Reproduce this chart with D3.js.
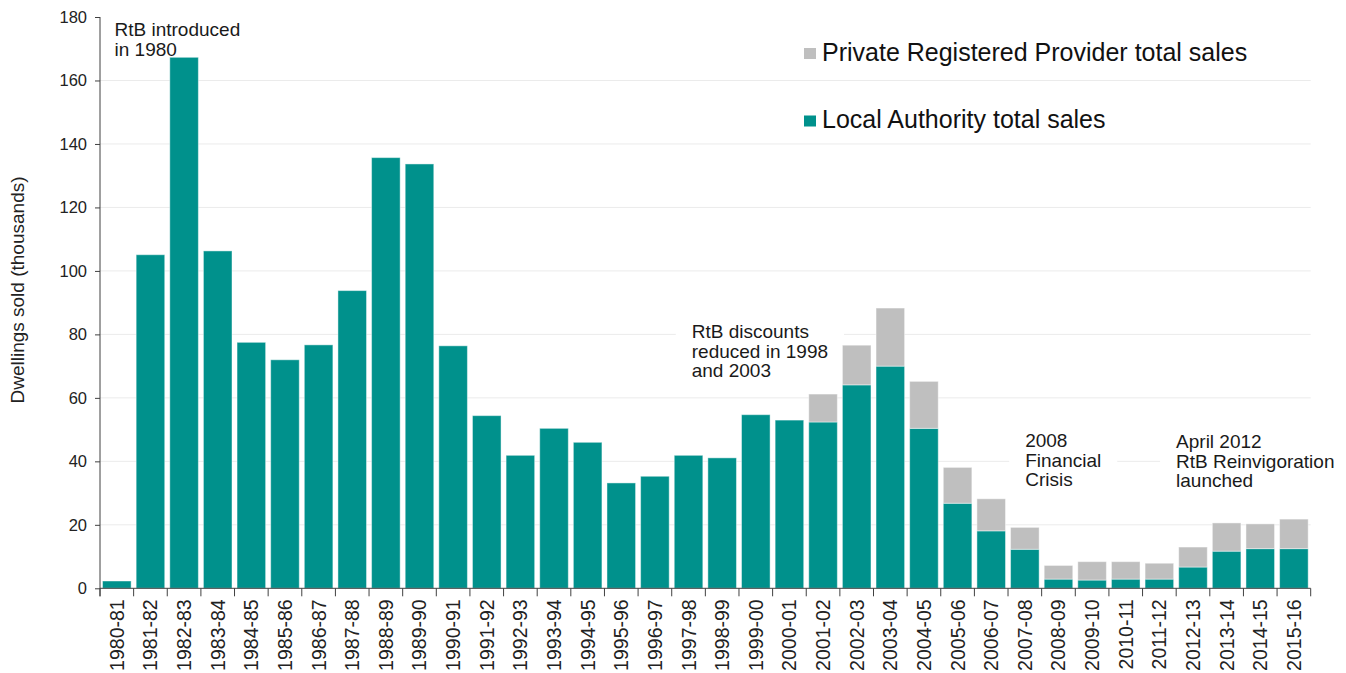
<!DOCTYPE html>
<html>
<head>
<meta charset="utf-8">
<script src="https://cdn.jsdelivr.net/npm/d3@7"></script>
<style>
  body { margin: 0; background: #fff; }
  svg { display: block; font-family: "Liberation Sans", Arial, sans-serif; }
</style>
</head>
<body>
<svg width="1346" height="673"></svg>
<script>
// Right to Buy sales, England (thousands)
var years = ['1980-81','1981-82','1982-83','1983-84','1984-85','1985-86','1986-87','1987-88','1988-89','1989-90',
  '1990-91','1991-92','1992-93','1993-94','1994-95','1995-96','1996-97','1997-98','1998-99','1999-00',
  '2000-01','2001-02','2002-03','2003-04','2004-05','2005-06','2006-07','2007-08','2008-09','2009-10',
  '2010-11','2011-12','2012-13','2013-14','2014-15','2015-16'];
var laSales = [2.3, 105.1, 167.3, 106.3, 77.5, 72.0, 76.7, 93.8, 135.7, 133.7,
  76.4, 54.4, 41.9, 50.4, 46.0, 33.2, 35.3, 41.9, 41.1, 54.7,
  53.0, 52.4, 64.1, 70.0, 50.4, 26.8, 18.1, 12.3, 2.9, 2.6,
  2.9, 2.9, 6.7, 11.7, 12.5, 12.5];
var prpSales = [0, 0, 0, 0, 0, 0, 0, 0, 0, 0,
  0, 0, 0, 0, 0, 0, 0, 0, 0, 0,
  0, 8.8, 12.5, 18.3, 14.8, 11.3, 10.1, 6.9, 4.3, 5.8,
  5.5, 5.0, 6.3, 8.9, 7.8, 9.3];
var yTicks = [0, 20, 40, 60, 80, 100, 120, 140, 160, 180];
var seriesNames = ['Private Registered Provider total sales', 'Local Authority total sales'];
var notes = [
  { year: '1980-81', dx: 12, y: 36, lines: ['RtB introduced', 'in 1980'] },
  { year: '1997-98', dx: 17.5, y: 338, lines: ['RtB discounts', 'reduced in 1998', 'and 2003'] },
  { year: '2008-09', dx: -19, y: 447, lines: ['2008', 'Financial', 'Crisis'] },
  { year: '2011-12', dx: 31, y: 448, lines: ['April 2012', 'RtB Reinvigoration', 'launched'] }
];

(function() {
  var teal = '#00918c', grey = '#bfbfbf';
  var pL = 100, pR = 1310.7, pT = 17, pB = 588.3;

  var svg = d3.select('svg');
  var x = d3.scaleBand().domain(years).range([pL, pR]).paddingInner(0.15).paddingOuter(0.075);
  var y = d3.scaleLinear().domain([0, 180]).range([pB, pT]);
  var step = x.step();

  // gridlines
  svg.append('g').selectAll('line')
    .data(yTicks.filter(function(t) { return t > 0 && t < 180; }))
    .join('line')
    .attr('x1', pL).attr('x2', pR)
    .attr('y1', function(d) { return y(d); }).attr('y2', function(d) { return y(d); })
    .attr('stroke', '#ebebeb').attr('stroke-width', 1);

  // annotation backgrounds + text
  var noteBg = svg.append('g');
  var bars = svg.append('g');
  var noteG = svg.append('g');
  notes.forEach(function(n) {
    var tx = x(n.year) + n.dx;
    var t = noteG.append('text').attr('font-size', 19).attr('fill', '#1a1a1a');
    n.lines.forEach(function(l, i) {
      t.append('tspan').attr('x', tx).attr('y', n.y + i * 19.5).text(l);
    });
    var bb = t.node().getBBox();
    noteBg.append('rect')
      .attr('x', bb.x - 16).attr('y', bb.y - 3)
      .attr('width', bb.width + 32).attr('height', bb.height + 5)
      .attr('fill', '#fff');
  });

  // stacked bars
  var rows = years.map(function(yr, i) { return { year: yr, la: laSales[i], prp: prpSales[i] }; });
  var stack = d3.stack().keys(['la', 'prp'])(rows);
  var colour = { la: teal, prp: grey };
  bars.selectAll('g').data(stack).join('g')
    .attr('fill', function(s) { return colour[s.key]; })
    .selectAll('rect')
    .data(function(s) { return s.filter(function(d) { return d[1] > d[0]; }); })
    .join('rect')
    .attr('x', function(d) { return x(d.data.year); })
    .attr('width', x.bandwidth())
    .attr('y', function(d) { return y(d[1]); })
    .attr('height', function(d) { return y(d[0]) - y(d[1]); })
    .attr('stroke', 'rgba(255,255,255,0.45)').attr('stroke-width', 1);

  // y axis
  var yAxis = svg.append('g').attr('transform', 'translate(' + pL + ',0)')
    .call(d3.axisLeft(y).tickValues(yTicks).tickSize(5).tickPadding(8));
  yAxis.select('.domain').remove();
  yAxis.selectAll('.tick line').attr('stroke', '#404040');
  yAxis.selectAll('.tick text').attr('font-size', 16.5).attr('fill', '#222').attr('font-family', null);
  svg.append('line').attr('x1', pL).attr('x2', pL).attr('y1', pT).attr('y2', pB + 8)
    .attr('stroke', '#404040');

  // x axis
  var bounds = years.map(function(yr) { return x(yr) - step * 0.075; }).concat([pR]);
  svg.append('line').attr('x1', pL).attr('x2', pR).attr('y1', pB).attr('y2', pB)
    .attr('stroke', '#404040');
  svg.append('g').selectAll('line').data(bounds).join('line')
    .attr('x1', function(d) { return d; }).attr('x2', function(d) { return d; })
    .attr('y1', pB).attr('y2', pB + 8)
    .attr('stroke', '#404040');
  svg.append('g').selectAll('text').data(years).join('text')
    .attr('transform', function(d) {
      return 'translate(' + (x(d) + x.bandwidth() / 2 + 7) + ',' + (pB + 11) + ') rotate(-90)';
    })
    .attr('text-anchor', 'end')
    .attr('font-size', 19.5)
    .attr('fill', '#222')
    .text(function(d) { return d; });

  // y label
  svg.append('text')
    .attr('transform', 'translate(24,290) rotate(-90)')
    .attr('text-anchor', 'middle')
    .attr('font-size', 19)
    .attr('fill', '#222')
    .text('Dwellings sold (thousands)');

  // legend
  var legend = svg.append('g');
  [grey, teal].forEach(function(c, i) {
    legend.append('rect').attr('x', 804).attr('y', 48 + i * 67.5).attr('width', 12).attr('height', 11).attr('fill', c);
    legend.append('text').attr('x', 822).attr('y', 61 + i * 67)
      .attr('font-size', 25).attr('fill', '#111').text(seriesNames[i]);
  });
})();
</script>
</body>
</html>
